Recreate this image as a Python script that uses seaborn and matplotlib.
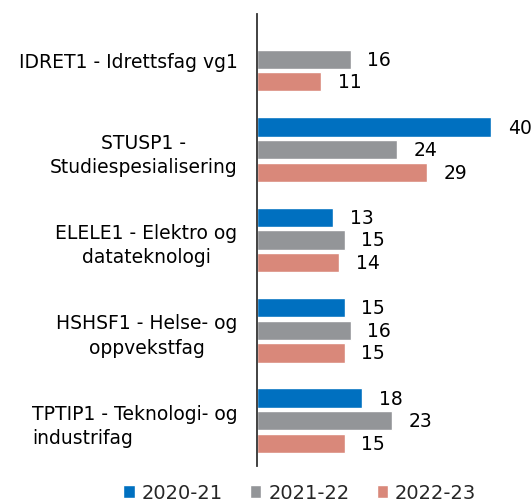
import numpy as np
import pandas as pd
import matplotlib
matplotlib.use("Agg")
import matplotlib.pyplot as plt
import seaborn as sns

categories = [
    "IDRET1 - Idrettsfag vg1",
    "STUSP1 -\nStudiespesialisering",
    "ELELE1 - Elektro og\ndatateknologi",
    "HSHSF1 - Helse- og\noppvekstfag",
    "TPTIP1 - Teknologi- og\nindustrifag",
]
years = ["2020-21", "2021-22", "2022-23"]
v_2020_21 = [np.nan, 40, 13, 15, 18]
v_2021_22 = [16, 24, 15, 16, 23]
v_2022_23 = [11, 29, 14, 15, 15]
colors = ["#0070C0", "#939598", "#D9887A"]

rows = []
for yr, vals in zip(years, [v_2020_21, v_2021_22, v_2022_23]):
    for cat, v in zip(categories, vals):
        rows.append({"cat": cat, "year": yr, "value": v})
df = pd.DataFrame(rows)

sns.set_style("white")
plt.rcParams["font.family"] = ["DejaVu Sans"]

fig = plt.figure(figsize=(5.32, 5.02), dpi=100)
ax = fig.add_axes([0.483, 0.07, 0.517, 0.90])

sns.barplot(data=df, y="cat", x="value", hue="year", order=categories,
            hue_order=years, palette=colors, orient="h", width=0.75,
            gap=0.15, ax=ax, saturation=1)

for cont in ax.containers:
    labels = ["" if np.isnan(v) else f"{int(v)}" for v in cont.datavalues]
    ax.bar_label(cont, labels=labels, padding=12, fontsize=13.5, color="black")

ax.set_xlim(0, 47)
ax.set_ylim(4.5, -0.5)
ax.set_xlabel("")
ax.set_ylabel("")
ax.set_xticks([])
for s in ["top", "right", "bottom"]:
    ax.spines[s].set_visible(False)
ax.spines["left"].set_color("#333333")
ax.spines["left"].set_linewidth(1.3)
ax.tick_params(axis="y", length=0, pad=14)
for i, t in enumerate(ax.get_yticklabels()):
    t.set_fontsize(13.5)
    t.set_color("black")
    t.set_linespacing(1.35)
    t.set_multialignment("left" if i == 4 else "center")

ax.legend(loc="upper center", bbox_to_anchor=(0.155, 0.0), ncol=3,
          frameon=False, fontsize=14, handlelength=0.6, handleheight=0.6,
          handletextpad=0.35, columnspacing=1.4)

fig.savefig("out.png", dpi=100)
